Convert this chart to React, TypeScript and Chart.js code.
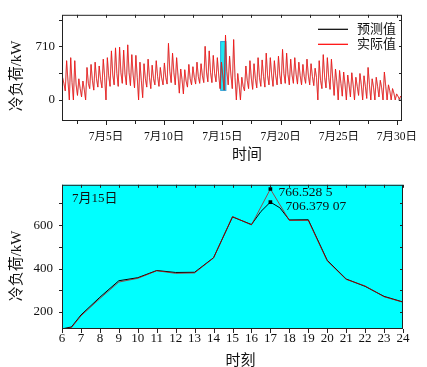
import React, { useEffect, useRef } from "react";
import { Chart, registerables } from "chart.js";

Chart.register(...registerables);

const SERIF = '"Liberation Serif", "Noto Sans CJK SC", serif';

// ---------- top chart (whole month) ----------
const monthTickDays = [5, 10, 15, 20, 25, 30];
const monthTickLabels = ["7月5日", "7月10日", "7月15日", "7月20日", "7月25日", "7月30日"];
const monthMinorDays = [2.5, 5, 7.5, 10, 12.5, 15, 17.5, 20, 22.5, 25, 27.5, 30];
const overviewYTicks = [0, 710];
const overviewYMinor = [0, 355, 710, 1065];
const overviewDayMin = 1.22;
const overviewDayMax = 30.43;
const overviewLoadMin = -279;
const overviewLoadMax = 1128;

const spikeStartDay = 1.15;
const spikeStepDay = 0.35;
const spikeTroughs = [
  200, 120, 0, 0, 60, 40, 0, 150, 130, 170, 160, 0, 180, 200, 180, 220, 200, 190, 160, 0,
  30, 170, 150, 200, 180, 200, 210, 230, 200, 90, 80, 170, 200, 210, 220, 230, 240, 230, 240, 150,
  130, 200, 150, 0, 0, 120, 150, 140, 160, 180, 170, 200, 180, 200, 210, 220, 200, 220, 210, 200,
  220, 200, 190, 0, 150, 160, 140, 60, 0, 50, 0, 40, 0, 60, 0, 20, 0, 0, 40, 0,
  0, 0, 0, 10,
];
const spikePeaks = [
  300, 520, 560, 520, 280, 250, 430, 470, 500, 450, 540, 560, 650, 690, 700, 660, 730, 600, 590, 500,
  480, 540, 460, 520, 430, 490, 750, 620, 560, 410, 400, 470, 440, 500, 480, 710, 650, 590, 560, 500,
  860, 580, 800, 350, 300, 450, 520, 480, 560, 530, 620, 560, 520, 580, 670, 620, 540, 560, 500, 470,
  540, 480, 420, 520, 600, 560, 540, 410, 390, 370, 330, 360, 300, 350, 320, 430, 280, 300, 260, 370,
  200, 150, 80, 50,
];
const spikeMids = [
  220, 250, 230, 200, 150, 140, 220, 260, 280, 270, 300, 320, 330, 350, 360, 340, 360, 330, 300, 260,
  280, 300, 280, 310, 290, 300, 380, 360, 330, 270, 250, 280, 300, 310, 320, 370, 360, 350, 330, 320,
  380, 330, 300, 200, 180, 260, 290, 280, 300, 310, 320, 330, 320, 330, 350, 340, 330, 340, 320, 310,
  330, 310, 300, 260, 300, 300, 280, 240, 220, 210, 200, 200, 180, 200, 180, 200, 170, 180, 160, 180,
  120, 90, 50, 20,
];
const predictedTailDays = [30.1, 30.45];
const predictedTailLoads = [0, 0];
const highlightDayStart = 14.85;
const highlightDayEnd = 15.3;
const highlightLoadLow = 127;
const highlightLoadHigh = 773;

// ---------- bottom chart (July 15) ----------
const hourTicks = [6, 7, 8, 9, 10, 11, 12, 13, 14, 15, 16, 17, 18, 19, 20, 21, 22, 23, 24];
const dayYTicks = [200, 400, 600];
const dayYMinor = [200, 300, 400, 500, 600, 700];
const dayLoadMin = 121.6;
const dayLoadMax = 786;
const actualHours = [6, 6.5, 7, 8, 9, 10, 11, 12, 13, 14, 15, 16, 17, 18, 19, 20, 21, 22, 23, 24, 24.15];
const actualLoads = [120, 128, 182, 262, 338, 355, 390, 378, 380, 449, 640, 601, 766.5285, 622, 622, 435, 350, 320, 270, 245, 120];
const predictedHours = [6, 6.5, 7, 8, 9, 10, 11, 12, 13, 14, 15, 16, 16.5, 17, 17.5, 18, 19, 20, 21, 22, 23, 24];
const predictedLoads = [122, 131, 186, 268, 344, 358, 391, 382, 383, 450, 638, 603, 663, 706.37907, 680, 624, 625, 438, 352, 318, 272, 246];
const peakHour = 17;
const peakActual = 766.5285;
const peakPredicted = 706.37907;
const peakActualText = "766.528 5";
const peakPredictedText = "706.379 07";

function buildOverview() {
  const pts: { x: number; y: number }[] = [];
  for (let i = 0; i < spikePeaks.length; i++) {
    const x0 = spikeStartDay + i * spikeStepDay;
    pts.push({ x: x0, y: spikeTroughs[i] });
    pts.push({ x: x0 + spikeStepDay / 3, y: spikePeaks[i] });
    pts.push({ x: x0 + (2 * spikeStepDay) / 3, y: spikeMids[i] });
  }
  return pts;
}

type FrameOpts = {
  xMinor: number[];
  xMajor: number[];
  yMinor: number[];
  bg?: string;
  xTitle: string;
  xTitleDx: number;
  xTitleY: number;
  yTitleDy: number;
  extra?: (chart: any) => void;
  before?: (chart: any) => void;
};

function framePlugin(o: FrameOpts) {
  return {
    id: "frame",
    beforeDatasetsDraw(chart: any) {
      const { ctx, chartArea: a } = chart;
      ctx.save();
      if (o.bg) {
        ctx.fillStyle = o.bg;
        ctx.fillRect(a.left, a.top, a.right - a.left, a.bottom - a.top);
      }
      if (o.before) o.before(chart);
      ctx.restore();
    },
    afterDatasetsDraw(chart: any) {
      const { ctx, chartArea: a } = chart;
      const xs = chart.scales.x;
      const ys = chart.scales.y;
      ctx.save();
      ctx.strokeStyle = "#222";
      ctx.lineWidth = 1;
      ctx.strokeRect(a.left + 0.5, a.top + 0.5, a.right - a.left - 1, a.bottom - a.top - 1);
      ctx.beginPath();
      for (const v of o.xMinor) {
        const px = Math.round(xs.getPixelForValue(v)) + 0.5;
        const len = o.xMajor.includes(v) ? 4 : 3;
        ctx.moveTo(px, a.bottom);
        ctx.lineTo(px, a.bottom + len);
        ctx.moveTo(px, a.top);
        ctx.lineTo(px, a.top + 3);
      }
      for (const v of o.yMinor) {
        const py = Math.round(ys.getPixelForValue(v)) + 0.5;
        if (py < a.top || py > a.bottom) continue;
        ctx.moveTo(a.left - 3, py);
        ctx.lineTo(a.left, py);
        ctx.moveTo(a.right - 3, py);
        ctx.lineTo(a.right, py);
      }
      ctx.stroke();
      // titles
      ctx.fillStyle = "#111";
      ctx.font = `15px ${SERIF}`;
      ctx.textAlign = "center";
      ctx.textBaseline = "middle";
      ctx.fillText(o.xTitle, (a.left + a.right) / 2 + o.xTitleDx, o.xTitleY);
      ctx.save();
      ctx.translate(17, (a.top + a.bottom) / 2 + o.yTitleDy);
      ctx.rotate(-Math.PI / 2);
      ctx.fillText("冷负荷/kW", 0, 0);
      ctx.restore();
      if (o.extra) o.extra(chart);
      ctx.restore();
    },
  };
}

function baseScales(cfg: {
  xMin: number; xMax: number; xTicks: number[]; xLabel: (v: number, i: number) => string; xFont: number; xPad: number; xHeight: number;
  yMin: number; yMax: number; yTicks: number[]; yPad: number;
}) {
  return {
    x: {
      type: "linear" as const,
      min: cfg.xMin,
      max: cfg.xMax,
      grid: { display: false, drawTicks: false },
      border: { display: false },
      ticks: {
        autoSkip: false,
        maxRotation: 0,
        padding: cfg.xPad,
        color: "#111",
        font: { family: SERIF, size: cfg.xFont },
        callback: (v: any, i: number) => cfg.xLabel(v, i),
      },
      afterBuildTicks: (s: any) => {
        s.ticks = cfg.xTicks.map((v) => ({ value: v }));
      },
      afterFit: (s: any) => {
        s.height = cfg.xHeight;
      },
    },
    y: {
      type: "linear" as const,
      min: cfg.yMin,
      max: cfg.yMax,
      grid: { display: false, drawTicks: false },
      border: { display: false },
      ticks: {
        autoSkip: false,
        padding: cfg.yPad,
        color: "#111",
        font: { family: SERIF, size: 13 },
        callback: (v: any) => String(v),
      },
      afterBuildTicks: (s: any) => {
        s.ticks = cfg.yTicks.map((v) => ({ value: v }));
      },
      afterFit: (s: any) => {
        s.width = 62;
      },
    },
  };
}

export default function App() {
  const topRef = useRef<HTMLCanvasElement>(null);
  const botRef = useRef<HTMLCanvasElement>(null);

  useEffect(() => {
    const overview = buildOverview();
    const predictedOverview = overview.concat(
      predictedTailDays.map((d, i) => ({ x: d, y: predictedTailLoads[i] }))
    );
    const top = new Chart(topRef.current!, {
      type: "line",
      data: {
        datasets: [
          {
            label: "预测值",
            data: predictedOverview,
            borderColor: "#000",
            borderWidth: 0.3,
            pointRadius: 0,
            order: 1,
          },
          {
            label: "实际值",
            data: overview,
            borderColor: "#ff1010",
            borderWidth: 0.75,
            pointRadius: 0,
            order: 0,
          },
        ],
      },
      options: {
        responsive: false,
        animation: false,
        layout: { padding: { top: 10, right: 25, left: 0, bottom: 0 } },
        plugins: { legend: { display: false }, tooltip: { enabled: false } },
        scales: baseScales({
          xMin: overviewDayMin, xMax: overviewDayMax, xTicks: monthTickDays,
          xLabel: (_v, i) => monthTickLabels[i], xFont: 11.5, xPad: 9, xHeight: 47,
          yMin: overviewLoadMin, yMax: overviewLoadMax, yTicks: overviewYTicks, yPad: 7,
        }) as any,
      },
      plugins: [
        framePlugin({
          xMinor: monthMinorDays,
          xMajor: monthTickDays,
          yMinor: overviewYMinor,
          xTitle: "时间",
          xTitleDx: 15,
          xTitleY: 155,
          yTitleDy: 8,
          before: (chart: any) => {
            const { ctx } = chart;
            const xs = chart.scales.x, ys = chart.scales.y;
            const x1 = xs.getPixelForValue(highlightDayStart);
            const x2 = xs.getPixelForValue(highlightDayEnd);
            const y1 = ys.getPixelForValue(highlightLoadHigh);
            const y2 = ys.getPixelForValue(highlightLoadLow);
            ctx.fillStyle = "#1ee8f2";
            ctx.fillRect(x1, y1, x2 - x1, y2 - y1);
            ctx.strokeStyle = "#2a9ed6";
            ctx.lineWidth = 1;
            ctx.strokeRect(x1, y1, x2 - x1, y2 - y1);
          },
          extra: (chart: any) => {
            const { ctx, chartArea: a } = chart;
            const items = [
              { label: "预测值", color: "#000", dy: 14.5 },
              { label: "实际值", color: "#ff0000", dy: 29.5 },
            ];
            ctx.font = `13px ${SERIF}`;
            ctx.textAlign = "left";
            ctx.textBaseline = "middle";
            for (const it of items) {
              const y = a.top + it.dy;
              ctx.strokeStyle = it.color;
              ctx.lineWidth = 1.2;
              ctx.beginPath();
              ctx.moveTo(a.right - 84, y);
              ctx.lineTo(a.right - 54, y);
              ctx.stroke();
              ctx.fillStyle = "#111";
              ctx.fillText(it.label, a.right - 45, y);
            }
          },
        }),
      ],
    });

    const markerRadius = (c: any) => (c.raw && c.raw.x === peakHour ? 2.6 : 0);
    const bot = new Chart(botRef.current!, {
      type: "line",
      data: {
        datasets: [
          {
            label: "预测值",
            data: predictedHours.map((h, i) => ({ x: h, y: predictedLoads[i] })),
            borderColor: "#000",
            borderWidth: 1,
            pointRadius: markerRadius,
            pointStyle: "rect",
            pointBackgroundColor: "#000",
            pointBorderColor: "#000",
            pointBorderWidth: 0,
            order: 1,
          },
          {
            label: "实际值",
            data: actualHours.map((h, i) => ({ x: h, y: actualLoads[i] })),
            borderColor: "rgba(200,0,0,0.7)",
            borderWidth: 1,
            pointRadius: markerRadius,
            pointStyle: "rect",
            pointBackgroundColor: "#000",
            pointBorderColor: "#000",
            pointBorderWidth: 0,
            order: 0,
          },
        ],
      },
      options: {
        responsive: false,
        animation: false,
        layout: { padding: { top: 11, right: 24, left: 0, bottom: 0 } },
        plugins: { legend: { display: false }, tooltip: { enabled: false } },
        scales: baseScales({
          xMin: 6, xMax: 24, xTicks: hourTicks,
          xLabel: (v) => String(v), xFont: 13, xPad: 2, xHeight: 38,
          yMin: dayLoadMin, yMax: dayLoadMax, yTicks: dayYTicks, yPad: 9,
        }) as any,
      },
      plugins: [
        framePlugin({
          xMinor: hourTicks,
          xMajor: hourTicks,
          yMinor: dayYMinor,
          bg: "#00ffff",
          xTitle: "时刻",
          xTitleDx: 8,
          xTitleY: 193,
          yTitleDy: 9,
          extra: (chart: any) => {
            const { ctx, chartArea: a } = chart;
            const xs = chart.scales.x, ys = chart.scales.y;
            ctx.fillStyle = "#111";
            ctx.textAlign = "left";
            ctx.textBaseline = "middle";
            ctx.font = `13px ${SERIF}`;
            ctx.fillText("7月15日", a.left + 10, a.top + 14);
            const px = xs.getPixelForValue(peakHour);
            ctx.font = `13.5px ${SERIF}`;
            ctx.fillText(peakActualText, px + 8, ys.getPixelForValue(peakActual) + 3);
            ctx.fillText(peakPredictedText, px + 15, ys.getPixelForValue(peakPredicted) + 4);
          },
        }),
      ],
    });

    return () => {
      top.destroy();
      bot.destroy();
    };
  }, []);

  return (
    <div style={{ position: "absolute", left: 0, top: 0, width: 427, height: 367, background: "#fff" }}>
      <canvas ref={topRef} width={427} height={168} style={{ position: "absolute", left: 0, top: 0 }} />
      <canvas ref={botRef} width={427} height={199} style={{ position: "absolute", left: 0, top: 168 }} />
    </div>
  );
}
